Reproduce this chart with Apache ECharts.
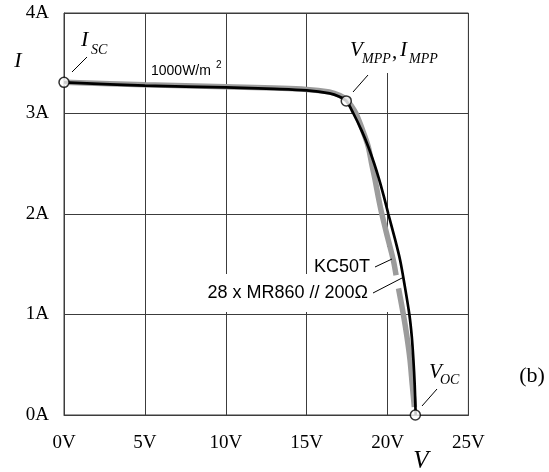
<!DOCTYPE html>
<html><head><meta charset="utf-8">
<script src="https://cdn.jsdelivr.net/npm/echarts@6/dist/echarts.min.js"></script>
<style>html,body{margin:0;padding:0;background:#fff}#c{width:549px;height:472px}</style>
</head><body><div id="c"></div>
<script>
// Tick values
const xTicks = [0, 5, 10, 15, 20, 25];
const yTicks = [0, 1, 2, 3, 4];
// KC50T module (black curve)
const kcV = [0, 5, 10, 13, 15, 16.42, 17.0, 17.45, 17.89, 18.40, 18.81, 19.18, 19.49, 19.78, 20.05, 20.43, 20.78, 21.07, 21.35, 21.50, 21.60, 21.68, 21.74];
const kcI = [3.31, 3.277, 3.26, 3.245, 3.23, 3.20, 3.17, 3.125, 3.0, 2.83, 2.67, 2.50, 2.34, 2.17, 2.0, 1.77, 1.54, 1.28, 1.0, 0.78, 0.55, 0.30, 0.0];
// 28 x MR860 // 200 Ohm (grey curve), null = break in the drawn line
const mrV = [0, 5, 10, 15, 16.4, 17.06, 17.45, 17.75, 18.05, 18.47, 18.81, 19.02, 19.23, 19.43, 19.65, 20.0, 20.36, 20.53, null, 20.68, 20.98, 21.20, 21.39, 21.53, 21.66];
const mrI = [3.31, 3.285, 3.265, 3.24, 3.215, 3.18, 3.14, 3.08, 3.0, 2.83, 2.67, 2.50, 2.34, 2.17, 2.0, 1.77, 1.54, 1.39, null, 1.26, 1.0, 0.78, 0.55, 0.30, 0.08];
// Marked points: Isc, MPP, Voc
const keyV = [0, 17.45, 21.72];
const keyI = [3.31, 3.125, 0];

const zip = (a, b) => a.map((v, i) => (v === null ? [null, null] : [v, b[i]]));

const chart = echarts.init(document.getElementById('c'), null, {renderer: 'canvas'});
const serif = 'Liberation Serif';
const sans = 'Liberation Sans';
const gridColor = '#3c3c3c';

function txt(text, x, y, size, family, opts) {
  opts = opts || {};
  return {
    type: 'text', z: 20,
    style: {
      text: text, x: x, y: y,
      fontSize: size, fontFamily: family,
      fontStyle: opts.italic ? 'italic' : 'normal',
      fill: '#000',
      align: opts.align || 'left',
      verticalAlign: 'middle'
    }
  };
}
function seg(x1, y1, x2, y2) {
  return {type: 'line', z: 20, shape: {x1, y1, x2, y2}, style: {stroke: '#000', lineWidth: 1}};
}
function wrect(x, y, w, h) {
  return {type: 'rect', z: 1, shape: {x, y, width: w, height: h}, style: {fill: '#fff'}, silent: true};
}

chart.setOption({
  animation: false,
  backgroundColor: '#fff',
  grid: {left: 64, right: 80.6, top: 13, bottom: 57, show: true, borderColor: gridColor, borderWidth: 1, backgroundColor: 'transparent'},
  xAxis: {
    type: 'value', min: xTicks[0], max: xTicks[xTicks.length - 1], interval: 5,
    axisLine: {show: true, lineStyle: {color: gridColor, width: 1}},
    axisTick: {show: false},
    splitLine: {show: true, lineStyle: {color: gridColor, width: 1}},
    axisLabel: {formatter: v => v + 'V', fontFamily: serif, fontSize: 19, color: '#000', margin: 19}
  },
  yAxis: {
    type: 'value', min: yTicks[0], max: yTicks[yTicks.length - 1], interval: 1,
    axisLine: {show: true, lineStyle: {color: gridColor, width: 1}},
    axisTick: {show: false},
    splitLine: {show: true, lineStyle: {color: gridColor, width: 1}},
    axisLabel: {formatter: v => v + 'A', fontFamily: serif, fontSize: 19, color: '#000', margin: 15,
      padding: [4, 0, 0, 0]}
  },
  series: [
    {
      type: 'line', name: '28 x MR860 // 200Ω', data: zip(mrV, mrI), showSymbol: false,
      smooth: 0.3, connectNulls: false, z: 2,
      lineStyle: {color: '#9c9c9c', width: 5.5, cap: 'butt'}
    },
    {
      type: 'line', name: 'KC50T', data: zip(kcV, kcI), showSymbol: false,
      smooth: 0.3, z: 3,
      lineStyle: {color: '#000', width: 2.7}
    },
    {
      type: 'scatter', data: zip(keyV, keyI), symbol: 'circle', symbolSize: 10, z: 5,
      itemStyle: {color: '#fff', borderColor: '#000', borderWidth: 1.5}
    }
  ],
  graphic: [
    // white label backgrounds (hide grid lines behind text)
    wrect(348, 14, 99, 59),
    wrect(310, 247, 80, 27),
    wrect(196, 274, 194, 38),
    // axis names
    txt('I', 18, 61, 22, serif, {italic: true, align: 'center'}),
    txt('V', 421, 461, 25, serif, {italic: true, align: 'center'}),
    txt('(b)', 532, 376, 22, serif, {align: 'center'}),
    // Isc
    txt('I', 81, 40, 22, serif, {italic: true}),
    txt('SC', 91, 50, 14, serif, {italic: true}),
    seg(87, 57, 72, 72),
    // MPP
    txt('V', 350, 50, 21, serif, {italic: true}),
    txt('MPP', 362, 59, 14, serif, {italic: true}),
    txt(',', 392, 52, 21, serif),
    txt('I', 400, 50, 21, serif, {italic: true}),
    txt('MPP', 409, 59, 14, serif, {italic: true}),
    seg(368, 75, 353, 92),
    // Voc
    txt('V', 429, 372, 21, serif, {italic: true}),
    txt('OC', 440, 380, 14, serif, {italic: true}),
    seg(437, 389, 422, 406),
    // irradiance
    txt('1000W/m', 151, 71, 14, sans),
    txt('2', 216, 65, 10, sans),
    // curve labels
    txt('KC50T', 370, 267, 18, sans, {align: 'right'}),
    seg(375, 267, 392, 259),
    txt('28 x MR860 // 200Ω', 368, 293, 18, sans, {align: 'right'}),
    seg(373, 293, 402, 278)
  ]
});
</script>
</body></html>
